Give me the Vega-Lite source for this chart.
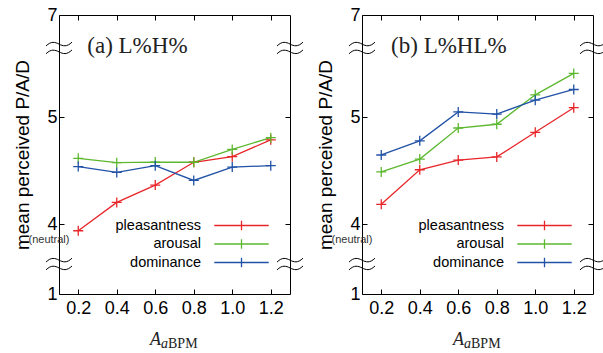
{
  "$schema": "https://vega.github.io/schema/vega-lite/v6.json",
  "padding": {"left": 13, "top": 5, "right": 5, "bottom": 5},
  "background": "white",
  "config": {
    "font": "Liberation Sans",
    "view": {"stroke": "#000", "strokeWidth": 1},
    "axis": {"grid": false, "domain": false, "tickColor": "#000", "tickSize": -5, "tickWidth": 1, "labelColor": "#000", "labelFont": "Liberation Sans", "labelFontSize": 18, "titleFont": "Liberation Sans", "titleFontSize": 19, "titleFontWeight": "normal", "titleColor": "#000"},
    "legend": {"orient": "none", "legendX": 173, "legendY": 201, "title": null, "symbolType": "M-3.2,0H3.2M0,-0.55V0.55", "symbolSize": 289, "symbolStrokeWidth": 1.3, "labelFontSize": 14.5, "labelFont": "Liberation Sans", "labelColor": "#000", "labelAlign": "right", "labelOffset": -50, "rowPadding": 1.5, "labelLimit": 0}
  },
  "datasets": {
    "a": [
      {"A": 0.2, "series": "pleasantness", "value": 3.94},
      {"A": 0.4, "series": "pleasantness", "value": 4.205},
      {"A": 0.6, "series": "pleasantness", "value": 4.367},
      {"A": 0.8, "series": "pleasantness", "value": 4.58},
      {"A": 1.0, "series": "pleasantness", "value": 4.632},
      {"A": 1.2, "series": "pleasantness", "value": 4.79},
      {"A": 0.2, "series": "arousal", "value": 4.617},
      {"A": 0.4, "series": "arousal", "value": 4.576},
      {"A": 0.6, "series": "arousal", "value": 4.582},
      {"A": 0.8, "series": "arousal", "value": 4.58},
      {"A": 1.0, "series": "arousal", "value": 4.70},
      {"A": 1.2, "series": "arousal", "value": 4.81},
      {"A": 0.2, "series": "dominance", "value": 4.54},
      {"A": 0.4, "series": "dominance", "value": 4.485},
      {"A": 0.6, "series": "dominance", "value": 4.548},
      {"A": 0.8, "series": "dominance", "value": 4.41},
      {"A": 1.0, "series": "dominance", "value": 4.535},
      {"A": 1.2, "series": "dominance", "value": 4.548}
    ],
    "b": [
      {"A": 0.2, "series": "pleasantness", "value": 4.187},
      {"A": 0.4, "series": "pleasantness", "value": 4.51},
      {"A": 0.6, "series": "pleasantness", "value": 4.60},
      {"A": 0.8, "series": "pleasantness", "value": 4.63},
      {"A": 1.0, "series": "pleasantness", "value": 4.86},
      {"A": 1.2, "series": "pleasantness", "value": 5.09},
      {"A": 0.2, "series": "arousal", "value": 4.49},
      {"A": 0.4, "series": "arousal", "value": 4.61},
      {"A": 0.6, "series": "arousal", "value": 4.90},
      {"A": 0.8, "series": "arousal", "value": 4.935},
      {"A": 1.0, "series": "arousal", "value": 5.21},
      {"A": 1.2, "series": "arousal", "value": 5.41},
      {"A": 0.2, "series": "dominance", "value": 4.648},
      {"A": 0.4, "series": "dominance", "value": 4.78},
      {"A": 0.6, "series": "dominance", "value": 5.05},
      {"A": 0.8, "series": "dominance", "value": 5.03},
      {"A": 1.0, "series": "dominance", "value": 5.16},
      {"A": 1.2, "series": "dominance", "value": 5.26}
    ],
    "brk": [{"k": "break"}]
  },
  "hconcat": [
    {
      "width": 231, "height": 279,
      "layer": [
        {"data": {"name": "a"}, "mark": {"type": "line", "strokeWidth": 1.3},
         "encoding": {
           "x": {"field": "A", "type": "quantitative", "scale": {"domain": [0.1, 1.3], "nice": false, "zero": false}, "axis": {"orient": "bottom", "values": [0.2, 0.4, 0.6, 0.8, 1.0, 1.2], "format": ".1f", "title": null, "labelPadding": 10}},
           "y": {"field": "value", "type": "quantitative", "scale": {"domain": [3.349, 5.956], "nice": false, "zero": false}, "axis": {"orient": "left", "values": [3.349, 4, 5, 5.956], "labelExpr": "datum.value < 3.5 ? '1' : datum.value > 5.9 ? '7' : format(datum.value, 'd')", "title": "mean perceived P/A/D", "labelPadding": 7, "titlePadding": 14}},
           "color": {"field": "series", "type": "nominal", "scale": {"domain": ["pleasantness", "arousal", "dominance"], "range": ["#e8262a", "#5cb82e", "#2152a6"]}}
         }},
        {"data": {"name": "a"}, "mark": {"type": "point", "shape": "M-1,0H1M0,-1V1", "filled": false, "strokeWidth": 1.3, "size": 100, "opacity": 1},
         "encoding": {
           "x": {"field": "A", "type": "quantitative", "scale": {"domain": [0.1, 1.3], "nice": false, "zero": false}, "axis": {"orient": "top", "values": [0.2, 0.4, 0.6, 0.8, 1.0, 1.2], "labels": false, "title": null}},
           "y": {"field": "value", "type": "quantitative", "scale": {"domain": [3.349, 5.956], "nice": false, "zero": false}, "axis": {"orient": "right", "values": [4, 5], "labels": false, "title": null}},
           "color": {"field": "series", "type": "nominal"}
         }},
        {"data": {"values": [{"t": "(a) L%H%"}]}, "mark": {"type": "text", "font": "Liberation Serif", "fontSize": 23, "align": "left", "baseline": "alphabetic", "color": "#222"},
         "encoding": {"x": {"datum": 0.247, "type": "quantitative", "axis": null}, "y": {"datum": 5.598, "type": "quantitative", "axis": null}, "text": {"field": "t"}}},
        {"data": {"values": [{"t": "(neutral)"}]}, "mark": {"type": "text", "fontSize": 11, "align": "center", "baseline": "middle", "dx": -10, "color": "#333"},
         "encoding": {"x": {"datum": 0.1, "type": "quantitative", "axis": null}, "y": {"datum": 3.85, "type": "quantitative", "axis": null}, "text": {"field": "t"}}},
        {"data": {"name": "brk"}, "mark": {"type": "point", "shape": "M-1,-0.15C-0.6,-0.55 -0.3,-0.45 0,-0.3S0.6,-0.05 1,-0.45M-1,0.45C-0.6,0.05 -0.3,0.15 0,0.3S0.6,0.55 1,0.15", "filled": false, "stroke": "#000", "strokeWidth": 1, "size": 676, "opacity": 1},
         "encoding": {"x": {"datum": 0.1, "type": "quantitative", "axis": null}, "y": {"datum": 5.648, "type": "quantitative", "axis": null}}},
        {"data": {"name": "brk"}, "mark": {"type": "point", "shape": "M-1,-0.15C-0.6,-0.55 -0.3,-0.45 0,-0.3S0.6,-0.05 1,-0.45M-1,0.45C-0.6,0.05 -0.3,0.15 0,0.3S0.6,0.55 1,0.15", "filled": false, "stroke": "#000", "strokeWidth": 1, "size": 676, "opacity": 1},
         "encoding": {"x": {"datum": 1.3, "type": "quantitative", "axis": null}, "y": {"datum": 5.648, "type": "quantitative", "axis": null}}},
        {"data": {"name": "brk"}, "mark": {"type": "point", "shape": "M-1,-0.15C-0.6,-0.55 -0.3,-0.45 0,-0.3S0.6,-0.05 1,-0.45M-1,0.45C-0.6,0.05 -0.3,0.15 0,0.3S0.6,0.55 1,0.15", "filled": false, "stroke": "#000", "strokeWidth": 1, "size": 676, "opacity": 1},
         "encoding": {"x": {"datum": 0.1, "type": "quantitative", "axis": null}, "y": {"datum": 3.629, "type": "quantitative", "axis": null}}},
        {"data": {"name": "brk"}, "mark": {"type": "point", "shape": "M-1,-0.15C-0.6,-0.55 -0.3,-0.45 0,-0.3S0.6,-0.05 1,-0.45M-1,0.45C-0.6,0.05 -0.3,0.15 0,0.3S0.6,0.55 1,0.15", "filled": false, "stroke": "#000", "strokeWidth": 1, "size": 676, "opacity": 1},
         "encoding": {"x": {"datum": 1.3, "type": "quantitative", "axis": null}, "y": {"datum": 3.629, "type": "quantitative", "axis": null}}},
        {"data": {"values": [{"t": "A"}]}, "mark": {"type": "text", "font": "Liberation Serif", "fontStyle": "italic", "fontSize": 18, "align": "right", "baseline": "alphabetic", "dy": 51, "color": "#222"},
         "encoding": {"x": {"datum": 0.63, "type": "quantitative", "axis": null}, "y": {"datum": 3.349, "type": "quantitative", "axis": null}, "text": {"field": "t"}}},
        {"data": {"values": [{"t": "a"}]}, "mark": {"type": "text", "font": "Liberation Serif", "fontStyle": "italic", "fontSize": 14, "align": "left", "baseline": "alphabetic", "dy": 54, "color": "#222"},
         "encoding": {"x": {"datum": 0.63, "type": "quantitative", "axis": null}, "y": {"datum": 3.349, "type": "quantitative", "axis": null}, "text": {"field": "t"}}},
        {"data": {"values": [{"t": "BPM"}]}, "mark": {"type": "text", "font": "Liberation Serif", "fontSize": 14, "align": "left", "baseline": "alphabetic", "dx": 7, "dy": 54, "color": "#222"},
         "encoding": {"x": {"datum": 0.63, "type": "quantitative", "axis": null}, "y": {"datum": 3.349, "type": "quantitative", "axis": null}, "text": {"field": "t"}}}
      ],
      "resolve": {"axis": {"x": "independent", "y": "independent"}}
    },
    {
      "width": 231, "height": 279,
      "layer": [
        {"data": {"name": "b"}, "mark": {"type": "line", "strokeWidth": 1.3},
         "encoding": {
           "x": {"field": "A", "type": "quantitative", "scale": {"domain": [0.1, 1.3], "nice": false, "zero": false}, "axis": {"orient": "bottom", "values": [0.2, 0.4, 0.6, 0.8, 1.0, 1.2], "format": ".1f", "title": null, "labelPadding": 10}},
           "y": {"field": "value", "type": "quantitative", "scale": {"domain": [3.349, 5.956], "nice": false, "zero": false}, "axis": {"orient": "left", "values": [3.349, 4, 5, 5.956], "labelExpr": "datum.value < 3.5 ? '1' : datum.value > 5.9 ? '7' : format(datum.value, 'd')", "title": "mean perceived P/A/D", "labelPadding": 7, "titlePadding": 14}},
           "color": {"field": "series", "type": "nominal", "scale": {"domain": ["pleasantness", "arousal", "dominance"], "range": ["#e8262a", "#5cb82e", "#2152a6"]}}
         }},
        {"data": {"name": "b"}, "mark": {"type": "point", "shape": "M-1,0H1M0,-1V1", "filled": false, "strokeWidth": 1.3, "size": 100, "opacity": 1},
         "encoding": {
           "x": {"field": "A", "type": "quantitative", "scale": {"domain": [0.1, 1.3], "nice": false, "zero": false}, "axis": {"orient": "top", "values": [0.2, 0.4, 0.6, 0.8, 1.0, 1.2], "labels": false, "title": null}},
           "y": {"field": "value", "type": "quantitative", "scale": {"domain": [3.349, 5.956], "nice": false, "zero": false}, "axis": {"orient": "right", "values": [4, 5], "labels": false, "title": null}},
           "color": {"field": "series", "type": "nominal"}
         }},
        {"data": {"values": [{"t": "(b) L%HL%"}]}, "mark": {"type": "text", "font": "Liberation Serif", "fontSize": 23, "align": "left", "baseline": "alphabetic", "color": "#222"},
         "encoding": {"x": {"datum": 0.251, "type": "quantitative", "axis": null}, "y": {"datum": 5.598, "type": "quantitative", "axis": null}, "text": {"field": "t"}}},
        {"data": {"values": [{"t": "(neutral)"}]}, "mark": {"type": "text", "fontSize": 11, "align": "center", "baseline": "middle", "dx": -10, "color": "#333"},
         "encoding": {"x": {"datum": 0.1, "type": "quantitative", "axis": null}, "y": {"datum": 3.85, "type": "quantitative", "axis": null}, "text": {"field": "t"}}},
        {"data": {"name": "brk"}, "mark": {"type": "point", "shape": "M-1,-0.15C-0.6,-0.55 -0.3,-0.45 0,-0.3S0.6,-0.05 1,-0.45M-1,0.45C-0.6,0.05 -0.3,0.15 0,0.3S0.6,0.55 1,0.15", "filled": false, "stroke": "#000", "strokeWidth": 1, "size": 676, "opacity": 1},
         "encoding": {"x": {"datum": 0.1, "type": "quantitative", "axis": null}, "y": {"datum": 5.648, "type": "quantitative", "axis": null}}},
        {"data": {"name": "brk"}, "mark": {"type": "point", "shape": "M-1,-0.15C-0.6,-0.55 -0.3,-0.45 0,-0.3S0.6,-0.05 1,-0.45M-1,0.45C-0.6,0.05 -0.3,0.15 0,0.3S0.6,0.55 1,0.15", "filled": false, "stroke": "#000", "strokeWidth": 1, "size": 676, "opacity": 1},
         "encoding": {"x": {"datum": 1.3, "type": "quantitative", "axis": null}, "y": {"datum": 5.648, "type": "quantitative", "axis": null}}},
        {"data": {"name": "brk"}, "mark": {"type": "point", "shape": "M-1,-0.15C-0.6,-0.55 -0.3,-0.45 0,-0.3S0.6,-0.05 1,-0.45M-1,0.45C-0.6,0.05 -0.3,0.15 0,0.3S0.6,0.55 1,0.15", "filled": false, "stroke": "#000", "strokeWidth": 1, "size": 676, "opacity": 1},
         "encoding": {"x": {"datum": 0.1, "type": "quantitative", "axis": null}, "y": {"datum": 3.629, "type": "quantitative", "axis": null}}},
        {"data": {"name": "brk"}, "mark": {"type": "point", "shape": "M-1,-0.15C-0.6,-0.55 -0.3,-0.45 0,-0.3S0.6,-0.05 1,-0.45M-1,0.45C-0.6,0.05 -0.3,0.15 0,0.3S0.6,0.55 1,0.15", "filled": false, "stroke": "#000", "strokeWidth": 1, "size": 676, "opacity": 1},
         "encoding": {"x": {"datum": 1.3, "type": "quantitative", "axis": null}, "y": {"datum": 3.629, "type": "quantitative", "axis": null}}},
        {"data": {"values": [{"t": "A"}]}, "mark": {"type": "text", "font": "Liberation Serif", "fontStyle": "italic", "fontSize": 18, "align": "right", "baseline": "alphabetic", "dy": 51, "color": "#222"},
         "encoding": {"x": {"datum": 0.63, "type": "quantitative", "axis": null}, "y": {"datum": 3.349, "type": "quantitative", "axis": null}, "text": {"field": "t"}}},
        {"data": {"values": [{"t": "a"}]}, "mark": {"type": "text", "font": "Liberation Serif", "fontStyle": "italic", "fontSize": 14, "align": "left", "baseline": "alphabetic", "dy": 54, "color": "#222"},
         "encoding": {"x": {"datum": 0.63, "type": "quantitative", "axis": null}, "y": {"datum": 3.349, "type": "quantitative", "axis": null}, "text": {"field": "t"}}},
        {"data": {"values": [{"t": "BPM"}]}, "mark": {"type": "text", "font": "Liberation Serif", "fontSize": 14, "align": "left", "baseline": "alphabetic", "dx": 7, "dy": 54, "color": "#222"},
         "encoding": {"x": {"datum": 0.63, "type": "quantitative", "axis": null}, "y": {"datum": 3.349, "type": "quantitative", "axis": null}, "text": {"field": "t"}}}
      ],
      "resolve": {"axis": {"x": "independent", "y": "independent"}}
    }
  ],
  "spacing": 72,
  "bounds": "flush",
  "resolve": {"legend": {"color": "independent"}}
}
